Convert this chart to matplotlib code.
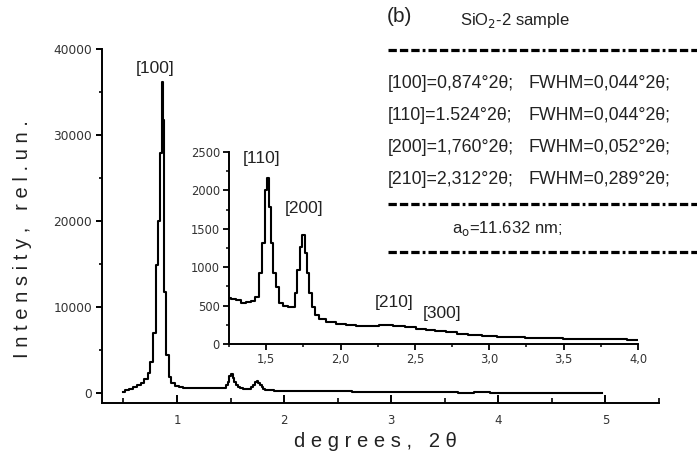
import matplotlib
matplotlib.use('Agg')
import matplotlib.pyplot as plt
from matplotlib.lines import Line2D
from matplotlib.ticker import MultipleLocator, FuncFormatter, FixedLocator

# ---- data ----
two_theta = [0.50, 0.53, 0.57, 0.61, 0.65, 0.68, 0.71, 0.74, 0.765, 0.79,
             0.81, 0.835, 0.85, 0.862, 0.874, 0.89, 0.91, 0.935, 0.96, 1.00,
             1.03, 1.08, 1.15, 1.22, 1.25, 1.28, 1.31, 1.35, 1.38, 1.41,
             1.44, 1.47, 1.48, 1.50, 1.515, 1.527, 1.54, 1.555, 1.575, 1.60,
             1.63, 1.66, 1.69, 1.70, 1.72, 1.735, 1.75, 1.77, 1.78, 1.80,
             1.81, 1.84, 1.87, 1.94, 2.00, 2.07, 2.14, 2.21, 2.31, 2.40,
             2.47, 2.55, 2.60, 2.67, 2.75, 2.82, 2.90, 3.00, 3.10, 3.18,
             3.30, 3.45, 3.54, 3.70, 3.85, 4.00, 4.20, 4.50, 4.80, 4.97]
intensity = [120, 350, 450, 700, 900, 1160, 1600, 2300, 3600, 7000,
             14900, 20000, 27900, 36200, 31800, 11700, 4400, 1900, 1160, 850,
             700, 620, 580, 590, 600, 585, 571, 532, 545, 560,
             610, 920, 1310, 2000, 2156, 1780, 1310, 920, 740, 530,
             490, 480, 485, 660, 960, 1260, 1415, 1180, 920, 660,
             480, 377, 325, 286, 262, 247, 240, 234, 247, 234,
             215, 195, 185, 169, 150, 130, 115, 104, 97, 91,
             80, 72, 65, 60, 62, 55, 50, 45, 40, 40]

main_xticks = [1, 2, 3, 4, 5]
main_yticks = [0, 10000, 20000, 30000, 40000]
inset_xticks = [1.5, 2.0, 2.5, 3.0, 3.5, 4.0]
inset_yticks = [0, 500, 1000, 1500, 2000, 2500]

peak_labels = ['[100]', '[110]', '[200]', '[210]', '[300]']
info_rows = [('[100]=0,874°2θ;', 'FWHM=0,044°2θ;'),
             ('[110]=1.524°2θ;', 'FWHM=0,044°2θ;'),
             ('[200]=1,760°2θ;', 'FWHM=0,052°2θ;'),
             ('[210]=2,312°2θ;', 'FWHM=0,289°2θ;')]
lattice_text = 'a$_{\\rm o}$=11.632 nm;'

plt.rcParams['lines.scale_dashes'] = False
W, H = 697, 463
fig = plt.figure(figsize=(W / 100, H / 100), dpi=100)


def fx(px):
    return px / W


def fy(py):
    return 1 - py / H


TXT = 'Liberation Sans'
TICKC = '#333333'
TC = '#222222'

# ---- main axes ----
ax = fig.add_axes([fx(102), fy(403), fx(659) - fx(102), fy(49) - fy(403)])
ax.plot(two_theta, intensity, drawstyle='steps-mid', color='black', lw=1.5)
ax.set_xlim(0.3, 5.5)
ax.set_ylim(-1160, 40000)
for s in ('top', 'right'):
    ax.spines[s].set_visible(False)
for s in ('left', 'bottom'):
    ax.spines[s].set_linewidth(1.4)
ax.xaxis.set_major_locator(FixedLocator(main_xticks))
ax.xaxis.set_minor_locator(MultipleLocator(0.5))
ax.yaxis.set_major_locator(FixedLocator(main_yticks))
ax.yaxis.set_minor_locator(MultipleLocator(5000))
ax.tick_params(axis='x', which='major', direction='in', length=6, width=1.4,
               pad=8, labelsize=8.5, labelcolor=TICKC)
ax.tick_params(axis='x', which='minor', direction='in', length=3.5, width=1.2)
ax.tick_params(axis='y', which='major', direction='out', length=4, width=1.4,
               pad=3, labelsize=8.8, labelcolor=TICKC)
ax.tick_params(axis='y', which='minor', direction='out', length=2.5, width=1.2)
ax.set_ylabel('I n t e n s i t y ,   r e l . u n .', fontsize=14.5,
              family=TXT, color=TC)
ax.yaxis.set_label_coords(-0.125, 0.463)
ax.set_xlabel('d e g r e e s ,   2 θ', fontsize=14.5, family=TXT, color=TC)
ax.xaxis.set_label_coords(0.49, -0.083)
ax.text(0.795, 37790, peak_labels[0], ha='center', va='center',
        fontsize=12.5, family=TXT, color=TC)

# ---- inset axes ----
ax2 = fig.add_axes([fx(229), fy(344), fx(638) - fx(229), fy(152) - fy(344)])
ax2.plot(two_theta, intensity, drawstyle='steps-mid', color='black', lw=1.5)
ax2.set_xlim(1.25, 4.0)
ax2.set_ylim(0, 2500)
ax2.patch.set_alpha(0)
for s in ('top', 'right'):
    ax2.spines[s].set_visible(False)
for s in ('left', 'bottom'):
    ax2.spines[s].set_linewidth(1.4)
ax2.xaxis.set_major_locator(FixedLocator(inset_xticks))
ax2.xaxis.set_minor_locator(MultipleLocator(0.25))
ax2.yaxis.set_major_locator(FixedLocator(inset_yticks))
ax2.yaxis.set_minor_locator(MultipleLocator(250))
ax2.xaxis.set_major_formatter(FuncFormatter(lambda v, p: f'{v:.1f}'.replace('.', ',')))
ax2.tick_params(axis='both', which='major', direction='out', length=4, width=1.3,
                pad=2.5, labelsize=8.3, labelcolor=TICKC)
ax2.tick_params(axis='both', which='minor', direction='out', length=2.5, width=1.1)
ax2.text(1.466, 2416, peak_labels[1], ha='center', va='center',
         fontsize=12.5, family=TXT, color=TC)
ax2.text(1.756, 1766, peak_labels[2], ha='center', va='center',
         fontsize=12.5, family=TXT, color=TC)
ax2.text(2.36, 545, peak_labels[3], ha='center', va='center',
         fontsize=12.5, family=TXT, color=TC)
ax2.text(2.68, 403, peak_labels[4], ha='center', va='center',
         fontsize=12.5, family=TXT, color=TC)

# ---- info block on the right ----
fig.text(fx(387), fy(17), '(b)', ha='left', va='center', fontsize=15,
         family=TXT, color=TC)
fig.text(fx(460), fy(21), 'SiO$_2$-2 sample', ha='left', va='center',
         fontsize=12, family=TXT, color=TC)
dash = (0, (6, 2.2, 6, 2.2, 6, 2.2, 2, 2.2))
for yy in (50, 204, 252):
    fig.add_artist(Line2D([fx(388), fx(697)], [fy(yy), fy(yy)],
                          transform=fig.transFigure, color='black', lw=2.3,
                          linestyle=dash))
for i, (a, b) in enumerate(info_rows):
    yy = 83 + i * 32
    fig.text(fx(388), fy(yy), a, ha='left', va='center', fontsize=12.8,
             family=TXT, color=TC)
    fig.text(fx(528), fy(yy), b, ha='left', va='center', fontsize=12.8,
             family=TXT, color=TC)
fig.text(fx(452), fy(228), lattice_text, ha='left', va='center', fontsize=12,
         family=TXT, color=TC)

fig.savefig('out.png', dpi=100)
